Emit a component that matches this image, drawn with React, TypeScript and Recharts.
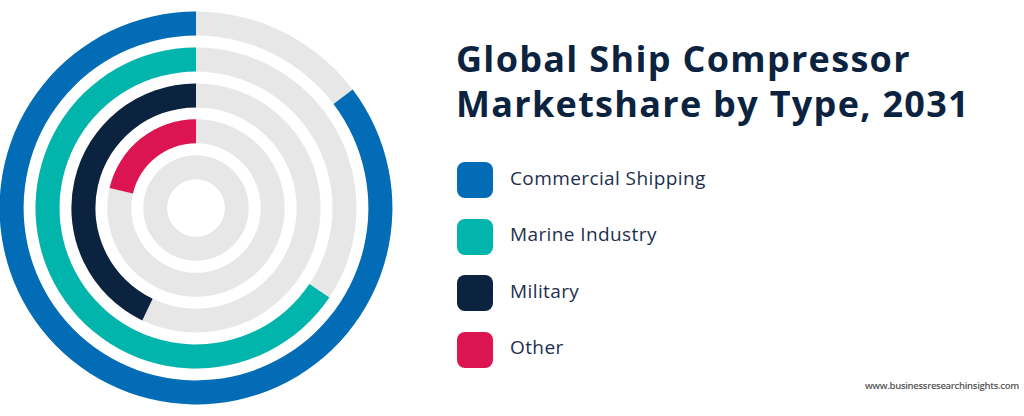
import React from 'react';
import { RadialBarChart, RadialBar, PolarAngleAxis, Cell } from 'recharts';

const categories = ['Commercial Shipping', 'Marine Industry', 'Military', 'Other'];
const shares = [85.3, 65.6, 42.9, 21.4];
const colors = ['#026cb6', '#01b5ad', '#0c2340', '#dc1552'];

// innermost ring is only a grey track, no category
const rings = [
  { name: '', value: 0, color: '#e7e7e7' },
  ...categories
    .map((name, i) => ({ name, value: shares[i], color: colors[i] }))
    .reverse(),
];

const navy = '#0c2340';

export default function App() {
  return (
    <div style={{ position: 'absolute', left: 0, top: 0, width: 1024, height: 416, background: '#fff', fontFamily: '"Open Sans", sans-serif' }}>
      <div style={{ position: 'absolute', left: 0, top: 0 }}>
        <RadialBarChart
          width={400}
          height={416}
          cx={196}
          cy={208}
          innerRadius={22.7}
          outerRadius={202.2}
          startAngle={90}
          endAngle={450}
          barCategoryGap="17%"
          margin={{ top: 0, right: 0, bottom: 0, left: 0 }}
          data={rings}
        >
          <PolarAngleAxis type="number" domain={[0, 100]} tick={false} axisLine={false} />
          <RadialBar dataKey="value" background={{ fill: '#e7e7e7' }} isAnimationActive={false}>
            {rings.map((r, i) => (
              <Cell key={i} fill={r.color} />
            ))}
          </RadialBar>
        </RadialBarChart>
      </div>

      <div style={{ position: 'absolute', left: 456, top: 36, color: navy, fontWeight: 700, fontSize: 36, lineHeight: '45px', letterSpacing: 1.3 }}>
        Global Ship Compressor
        <br />
        Marketshare by Type, 2031
      </div>

      {categories.map((name, i) => (
        <div key={name} style={{ position: 'absolute', left: 457, top: 162 + i * 56.5, display: 'flex', alignItems: 'center' }}>
          <div style={{ width: 36, height: 36, borderRadius: 8, background: colors[i] }} />
          <span style={{ marginLeft: 17, marginTop: -5, fontSize: 19, letterSpacing: 0.4, color: '#1d2f4d' }}>{name}</span>
        </div>
      ))}

      <div style={{ position: 'absolute', right: 5, top: 379, fontSize: 9.5, letterSpacing: -0.3, color: '#555', fontWeight: 600 }}>
        www.businessresearchinsights.com
      </div>
    </div>
  );
}
